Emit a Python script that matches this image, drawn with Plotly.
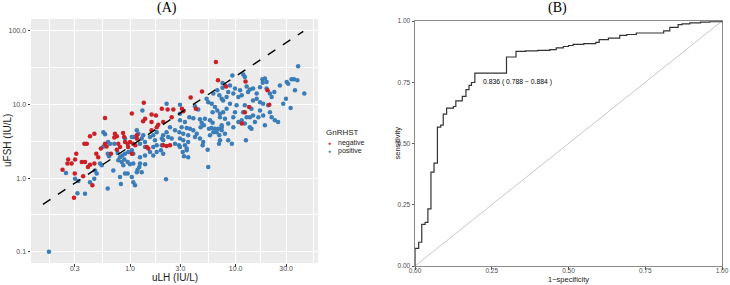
import plotly.graph_objects as go

# ---------------- Panel A data (uLH vs uFSH, IU/L) ----------------
neg_lh = [6.5, 6.8, 12.4, 8.1, 4.8, 3.75, 20.0, 1.35, 20.8, 3.1, 2.0, 2.27, 2.57, 3.2, 4.2, 1.04, 0.58, 1.6,
          1.76, 2.48, 1.39, 1.33, 1.6, 2.06, 1.85, 1.79, 1.6, 12.2, 13.4, 1.16, 1.07, 1.12, 1.44, 1.49, 2.06,
          2.22, 2.39, 1.04, 0.418, 0.46, 0.39, 0.37, 0.72, 0.75, 0.71, 0.86, 0.88, 0.26, 0.256, 0.31, 0.302,
          0.28, 0.35, 0.375, 0.418, 0.40, 0.46, 0.48, 0.50, 0.53, 0.58, 0.60, 0.66, 0.775, 0.804, 0.75, 0.897,
          0.95, 1.0, 0.96, 0.23, 0.30, 0.36, 0.44, 0.295, 11.4, 1.16]
neg_fsh = [37.5, 21.2, 20.5, 17.5, 15.0, 12.4, 15.5, 10.5, 9.9, 8.7, 8.7, 8.5, 8.55, 8.1, 8.75, 7.5, 6.55, 7.3,
           7.09, 6.7, 6.4, 5.9, 5.75, 5.75, 5.3, 4.9, 4.44, 7.8, 9.2, 3.43, 2.93, 2.78, 2.63, 2.51, 2.78,
           2.72, 2.78, 2.14, 3.68, 4.0, 2.93, 2.93, 4.0, 3.68, 3.55, 4.1, 3.6, 1.78, 1.57, 2.14, 1.78,
           1.57, 1.65, 1.65, 1.52, 1.41, 1.57, 2.14, 1.92, 2.51, 2.93, 2.69, 2.14, 2.93, 2.63, 2.43, 3.08,
           2.93, 3.08, 2.63, 1.30, 1.15, 1.06, 0.80, 0.54, 5.5, 3.8]

pos_lh = [39, 9.3, 11.8, 12.2, 7.92, 7.5, 8.83, 17.9, 18.9, 18.0, 19.6, 33.8, 35.6, 38.3, 30.4, 31.4, 26.2,
          44.6, 36.4, 29.9, 28.2, 33.1, 23.2, 21.1, 21.9, 19.6, 17.0, 15.8, 14.6, 13.6, 12.7, 13.1, 11.0,
          11.4, 10.6, 9.85, 9.5, 8.5, 8.2, 7.6, 14.6, 15.8, 17.0, 18.2, 20.3, 21.1, 21.9, 23.5, 25.2, 18.2,
          17.0, 16.4, 14.1, 14.6, 13.6, 12.2, 11.75, 12.7, 11.4, 12.2, 10.2, 9.85, 9.5, 10.6, 8.83, 8.2,
          7.6, 7.92, 8.5, 7.1, 7.37, 13.6, 14.1, 18.9, 15.2, 9.5, 7.37, 7.92, 7.1, 8.5, 9.2, 12.5, 4.87,
          5.43, 5.5, 6.95, 7.5, 7.0, 6.7, 6.14, 7.37, 5.93, 6.37, 6.7, 6.05, 7.1, 2.97, 2.22, 1.31, 2.97,
          3.64, 3.97, 4.59, 5.12, 4.76, 5.0, 4.66, 5.71, 6.05, 5.59, 5.93, 6.37, 6.84, 7.37, 6.14, 6.6,
          7.0, 5.71, 2.97, 3.31, 3.08, 3.44, 3.69, 3.97, 2.665, 2.93, 3.19, 3.55, 4.28, 4.12, 4.59, 4.93,
          2.97, 3.19, 3.55, 3.31, 2.97, 3.44, 3.15, 3.24, 2.39, 2.22, 2.06, 2.0, 2.06, 1.79, 1.66, 1.546,
          1.724, 1.79, 1.66, 2.0, 1.335, 1.29, 1.387, 1.243, 1.387, 1.16, 1.2, 1.074, 2.3, 2.48, 2.665,
          1.546, 1.66, 1.79, 2.06, 1.387, 1.243, 1.074, 1.243, 1.225, 1.29, 1.16, 1.39, 2.19, 1.115, 5.31,
          5.5, 4.12, 4.42, 0.56, 0.58, 0.62, 0.647, 0.71, 0.897, 1.04, 0.56, 0.615, 0.633, 0.764, 0.804,
          0.846, 0.897, 0.964, 1.04, 1.074, 0.775, 0.835, 0.884, 0.95, 1.0, 0.52, 0.54, 0.466, 0.484,
          0.248, 0.302, 0.324, 0.418, 0.459, 0.695, 0.864, 0.897, 0.804, 0.82, 1.04, 1.074, 0.615, 0.375,
          0.171, 2.91, 3.44, 3.55, 1.96, 1.18, 0.95, 0.318]
pos_fsh = [33, 24.7, 25.5, 23.6, 18.1, 16.8, 18.1, 21.9, 22.4, 19.7, 20.1, 21.9, 21.9, 21.2, 20.1, 19.1, 18.1,
           14.0, 15.5, 11.9, 10.2, 8.9, 14.7, 14.0, 12.6, 16.4, 17.1, 14.0, 16.4, 15.9, 17.5, 14.7, 15.5,
           13.3, 12.6, 16.4, 14.0, 14.7, 12.6, 11.3, 11.3, 11.9, 10.7, 10.2, 9.7, 7.85, 6.7, 6.07, 5.75, 7.09,
           8.29, 6.7, 8.75, 7.09, 6.7, 9.7, 7.85, 6.7, 6.07, 5.5, 9.7, 7.85, 6.7, 5.75, 10.2, 8.75,
           7.85, 6.4, 5.5, 6.7, 5.19, 4.9, 4.68, 5.19, 5.75, 4.9, 4.9, 4.0, 3.25, 3.25, 2.93, 3.25, 2.78,
           2.43, 1.41, 2.93, 19.5, 13.3, 15.5, 14.0, 11.9, 10.2, 9.2, 8.29, 7.85, 7.48, 9.9, 10.2, 8.29, 7.48,
           6.7, 6.5, 6.26, 6.4, 5.65, 5.19, 4.9, 6.07, 5.65, 4.68, 4.77, 4.68, 4.68, 4.44, 4.2, 4.2,
           3.8, 3.8, 6.07, 5.75, 4.9, 4.77, 4.68, 4.44, 4.44, 4.2, 4.0, 3.8, 4.0, 3.6, 3.43, 3.08,
           3.43, 3.25, 3.08, 2.78, 2.63, 2.51, 2.25, 1.98, 4.9, 4.2, 3.8, 3.43, 3.25, 4.2, 3.8, 3.6,
           3.25, 2.78, 2.63, 2.78, 3.8, 3.43, 3.08, 2.93, 2.63, 4.44, 4.0, 3.6, 3.6, 3.43, 2.93,
           2.25, 2.03, 2.25, 2.14, 2.03, 1.92, 1.57, 1.57, 1.41, 1.20, 1.20, 1.54, 0.96, 0.80, 11.9,
           10.7, 9.4, 8.55, 4.2, 3.92, 3.08, 2.93, 2.93, 3.43, 3.6, 2.69, 2.14, 1.97, 2.18, 1.92,
           2.03, 2.14, 2.25, 2.38, 2.14, 1.74, 1.65, 1.78, 1.65, 1.54, 1.57, 1.49, 1.27, 1.15,
           1.17, 0.98, 0.91, 0.88, 0.98, 1.27, 1.49, 1.15, 1.03, 0.83, 1.03, 0.88, 0.72, 0.61,
           0.10, 2.78, 2.38, 1.92, 2.38, 1.30, 1.15, 0.62]

# dashed reference line (end points)
ref_lh = [0.15, 43.6]
ref_fsh = [0.44, 98]

x_ticks_a = [0.3, 1, 3, 10, 30]
x_ticktext_a = ["0.3", "1.0", "3.0", "10.0", "30.0"]
x_minor_a = [0.173, 0.548, 1.732, 5.477, 17.32, 54.77]
y_ticks_a = [0.1, 1, 10, 100]
y_ticktext_a = ["0.1", "1.0", "10.0", "100.0"]
y_minor_a = [0.316, 3.16, 31.6]

# ---------------- Panel B data (ROC) ----------------
roc_fpr = [0, 0, 0.012, 0.022, 0.033, 0.042, 0.052, 0.062, 0.073, 0.084, 0.092, 0.103, 0.125, 0.133, 0.154,
           0.166, 0.176, 0.184, 0.195, 0.298, 0.329, 0.36, 0.40, 0.439, 0.46, 0.483, 0.50, 0.515, 0.55, 0.589,
           0.60, 0.63, 0.667, 0.69, 0.721, 0.803, 0.81, 0.83, 0.857, 0.87, 0.895, 0.93, 0.96, 1.0]
roc_tpr = [0, 0.072, 0.097, 0.17, 0.178, 0.233, 0.383, 0.42, 0.567, 0.575, 0.62, 0.644, 0.651, 0.674, 0.692,
           0.72, 0.737, 0.749, 0.787, 0.853, 0.876, 0.878, 0.880, 0.883, 0.890, 0.896, 0.90, 0.905, 0.908, 0.913,
           0.924, 0.93, 0.941, 0.945, 0.951, 0.951, 0.96, 0.974, 0.985, 0.988, 0.992, 0.995, 0.997, 1.0]
diag = [0, 1]
auc_text = "0.836 ( 0.788 − 0.884 )"
auc_pos = (0.215, 0.75)
b_ticks = [0, 0.25, 0.5, 0.75, 1.0]
b_ticktext = ["0.00", "0.25", "0.50", "0.75", "1.00"]

RED = "#CC1F26"
BLUE = "#3A7DB8"
SANS = "Liberation Sans, Arial, sans-serif"
SERIF = "Liberation Serif, Times New Roman, serif"

W, H = 730, 285


def fx(px):
    return px / W


def fy(py):
    return 1 - py / H


fig = go.Figure()

fig.add_trace(go.Scatter(x=pos_lh, y=pos_fsh, mode="markers", xaxis="x", yaxis="y",
                         marker=dict(color=BLUE, size=4.5, line=dict(width=0)), showlegend=False))
fig.add_trace(go.Scatter(x=neg_lh, y=neg_fsh, mode="markers", xaxis="x", yaxis="y",
                         marker=dict(color=RED, size=4.5, line=dict(width=0)), showlegend=False))
fig.add_trace(go.Scatter(x=ref_lh, y=ref_fsh, mode="lines", xaxis="x", yaxis="y",
                         line=dict(color="black", width=1.4, dash="dash"), showlegend=False))

fig.add_trace(go.Scatter(x=diag, y=diag, mode="lines", xaxis="x2", yaxis="y2",
                         line=dict(color="#C8C8C8", width=1), showlegend=False))
fig.add_trace(go.Scatter(x=roc_fpr, y=roc_tpr, mode="lines", line_shape="hv", xaxis="x2", yaxis="y2",
                         line=dict(color="#333333", width=1.2), showlegend=False, cliponaxis=False))

# panel boxes in window pixels
ax_l, ax_r, ax_t, ax_b = 31, 318, 19, 263
bx_l, bx_r, bx_t, bx_b = 415, 722, 21, 266

tickfont_a = dict(family=SANS, size=7, color="#4D4D4D")
tickfont_b = dict(family=SANS, size=6.5, color="#4D4D4D")
common_x = dict(automargin=False, ticks="outside", ticklen=2.5, zeroline=False, ticklabelstandoff=-4)
common_y = dict(automargin=False, ticks="outside", ticklen=2.5, zeroline=False, ticklabelstandoff=0)

fig.update_layout(
    width=W, height=H, margin=dict(l=0, r=0, t=0, b=0, autoexpand=False),
    paper_bgcolor="white", plot_bgcolor="white",
    xaxis=dict(type="log", domain=[fx(ax_l), fx(ax_r)], range=[-0.937, 1.779], anchor="y",
               tickmode="array", tickvals=x_ticks_a, ticktext=x_ticktext_a, tickfont=tickfont_a,
               tickcolor="#333333", showgrid=True, gridcolor="white", gridwidth=1, showline=False,
               minor=dict(tickmode="array", tickvals=x_minor_a, showgrid=True, gridcolor="white",
                          gridwidth=0.5, ticks=""), **common_x),
    yaxis=dict(type="log", domain=[fy(ax_b), fy(ax_t)], range=[-1.153, 2.159], anchor="x",
               tickmode="array", tickvals=y_ticks_a, ticktext=y_ticktext_a, tickfont=tickfont_a,
               tickcolor="#333333", showgrid=True, gridcolor="white", gridwidth=1, showline=False,
               minor=dict(tickmode="array", tickvals=y_minor_a, showgrid=True, gridcolor="white",
                          gridwidth=0.5, ticks=""), **common_y),
    xaxis2=dict(domain=[fx(bx_l), fx(bx_r)], range=[0, 1], anchor="y2",
                tickmode="array", tickvals=b_ticks, ticktext=b_ticktext, tickfont=tickfont_b,
                tickcolor="#555555", showgrid=False,
                showline=True, linecolor="#8A8A8A", linewidth=1, mirror=True, **common_x),
    yaxis2=dict(domain=[fy(bx_b), fy(bx_t)], range=[0, 1], anchor="x2",
                tickmode="array", tickvals=b_ticks, ticktext=b_ticktext, tickfont=tickfont_b,
                tickcolor="#555555", showgrid=False,
                showline=True, linecolor="#8A8A8A", linewidth=1, mirror=True, **common_y),
    showlegend=False,
)

# grey panel background for (A)
fig.add_shape(type="rect", xref="x domain", yref="y domain", x0=0, x1=1, y0=0, y1=1,
              fillcolor="#EBEBEB", line=dict(width=0), layer="below")

ann = []


def add_text(text, x, y, size, family=SANS, color="#1A1A1A", xanchor="center", yanchor="middle", angle=0):
    ann.append(dict(text=text, x=fx(x), y=fy(y), xref="paper", yref="paper", showarrow=False,
                    font=dict(family=family, size=size, color=color), xanchor=xanchor,
                    yanchor=yanchor, textangle=angle))


add_text("(A)", 167, 8, 14, family=SERIF, color="black")
add_text("(B)", 557, 8, 14, family=SERIF, color="black")
add_text("uLH (IU/L)", (ax_l + ax_r) / 2, 277, 10)
add_text("uFSH (IU/L)", 7, (ax_t + ax_b) / 2, 10, angle=-90)
add_text("1−specificity", (bx_l + bx_r) / 2, 279, 7.5)
add_text("sensitivity", 397, (bx_t + bx_b) / 2, 7.5, angle=-90)

# legend for (A)
add_text("GnRHST", 324, 132, 8, xanchor="left")
add_text("●", 329, 143, 5, color=RED)
add_text("●", 329, 150.5, 5, color=BLUE)
add_text("negative", 336, 143, 7, xanchor="left")
add_text("positive", 336, 150.5, 7, xanchor="left")

fig.update_layout(annotations=ann)

fig.add_annotation(text=auc_text, x=auc_pos[0], y=auc_pos[1], xref="x2", yref="y2", showarrow=False,
                   xanchor="left", yanchor="middle", font=dict(family=SANS, size=6.8, color="black"))

# remove the browser's default 8px body margin so the figure fills the window
fig.write_html("out.html", config={"displayModeBar": False},
               post_script="document.body.style.margin='0px';")
